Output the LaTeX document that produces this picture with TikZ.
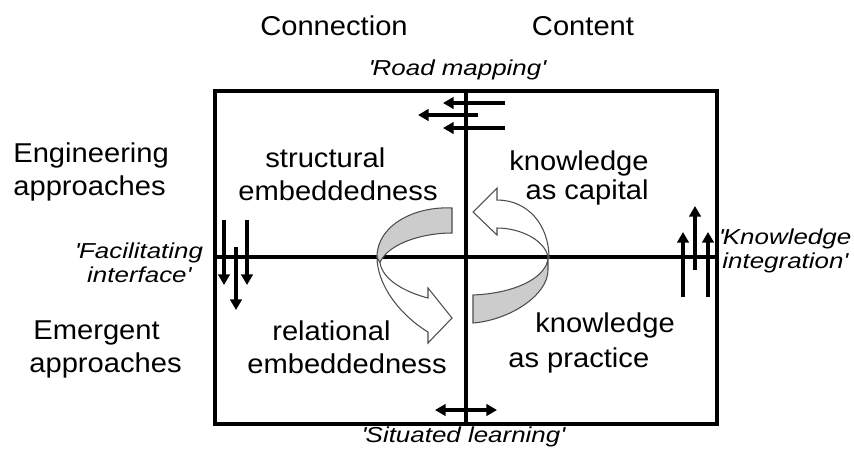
\documentclass[tikz,border=0pt]{standalone}
\usepackage{fontspec}
\setmainfont{Liberation Sans}[FakeStretch=1.07]
\newfontfamily\quotefont{Liberation Sans}[FakeStretch=1.2]
\usetikzlibrary{arrows.meta}
\tikzset{
  frame/.style={line width=1.9pt},
  flow/.style={line width=1.8pt,-{Triangle[length=6pt,width=6.5pt]}},
  twoway/.style={line width=1.8pt,{Triangle[length=6pt,width=6.5pt]}-{Triangle[length=6pt,width=6.5pt]}},
  axis/.style={font=\fontsize{15.5}{18.8}\selectfont,inner sep=0pt},
  quote/.style={font=\quotefont\itshape\fontsize{12.3}{14.2}\selectfont,inner sep=0pt},
  back/.style={draw=black!70,line width=0.6pt,fill=black!20},
  front/.style={draw=black!70,line width=0.6pt,fill=white},
}
\newcommand{\q}{\textquotesingle}

\begin{document}
\begin{tikzpicture}[x=0.02cm,y=-0.02cm]
\useasboundingbox (0,0) rectangle (854,451);
% quadrant frame
\coordinate (nw) at (215,91);
\coordinate (se) at (717,424);
\coordinate (mid) at (466,257);
\draw[frame] (nw) rectangle (se);
\draw[frame] (nw -| mid) -- (se -| mid);
\draw[frame] (nw |- mid) -- (se |- mid);
%
\node[axis,anchor=base] (conn) at (334,35) {Connection};
\node[axis,anchor=base] (cont) at (583,35) {Content};
\node[axis,align=left,anchor=north west] (engi) at (13,142) {Engineering\\approaches};
\node[axis,align=left,anchor=north west] (emer) at (29,320) {\hspace*{2.3pt}Emergent\\approaches};
%
\node[axis,align=left,anchor=north west] (stru) at (238,147) {\hspace*{15.4pt}structural\\embeddedness};
\node[axis,align=left,anchor=north west] (rela) at (247,320) {\hspace*{14.2pt}relational\\embeddedness};
\node[axis,align=right,anchor=north east] (capi) at (649,150) {knowledge\\[-2.3pt]as capital};
\node[axis,align=left,anchor=north west] (prac) at (508,312) {\hspace*{15.4pt}knowledge\\[1.1pt]as practice};
%
\node[quote,anchor=base] (road) at (457,75) {\q Road mapping\q};
\node[quote,anchor=base] (situ) at (463,442) {\q Situated learning\q};
\node[quote,align=center,anchor=north] (faci) at (139,242) {\q Facilitating\\interface\q};
\node[quote,align=center,anchor=north] (inte) at (785,228) {\q Knowledge\\integration\q};
%
\foreach \xa/\ya/\xb/\yb in {%
        505/103/443/103, 478/115/418/115, 505/128/443/128,
        224/220/224/285, 236/247/236/310, 247/220/247/285,
        683/297/683/232, 695/270/695/206, 708/297/708/232%
    }
\draw[flow] (\xa,\ya) -- (\xb,\yb);
\draw[twoway] (435,410) -- (497,410);
%
% left ribbon arrow
\draw[back] (452,208) .. controls (415,206) and (377,225) .. (377,257)
  -- (379,265) .. controls (385,245) and (420,233) .. (452,233) -- cycle;
\draw[front] (377,257) .. controls (377,285) and (400,315) .. (428,332)
  -- (428,343) -- (452,318) -- (428,288) -- (428,298)
  .. controls (405,292) and (383,280) .. (380,263) -- cycle;
% right ribbon arrow
\draw[back] (473,295) .. controls (520,293) and (548,275) .. (548,257)
  -- (548,270) .. controls (548,295) and (510,320) .. (473,323) -- cycle;
\draw[front] (548,257) .. controls (545,240) and (520,228) .. (497,228)
  -- (497,235) -- (473,212) -- (497,188) -- (497,200)
  .. controls (528,200) and (549,225) .. (549,258) -- cycle;
\end{tikzpicture}
\end{document}
